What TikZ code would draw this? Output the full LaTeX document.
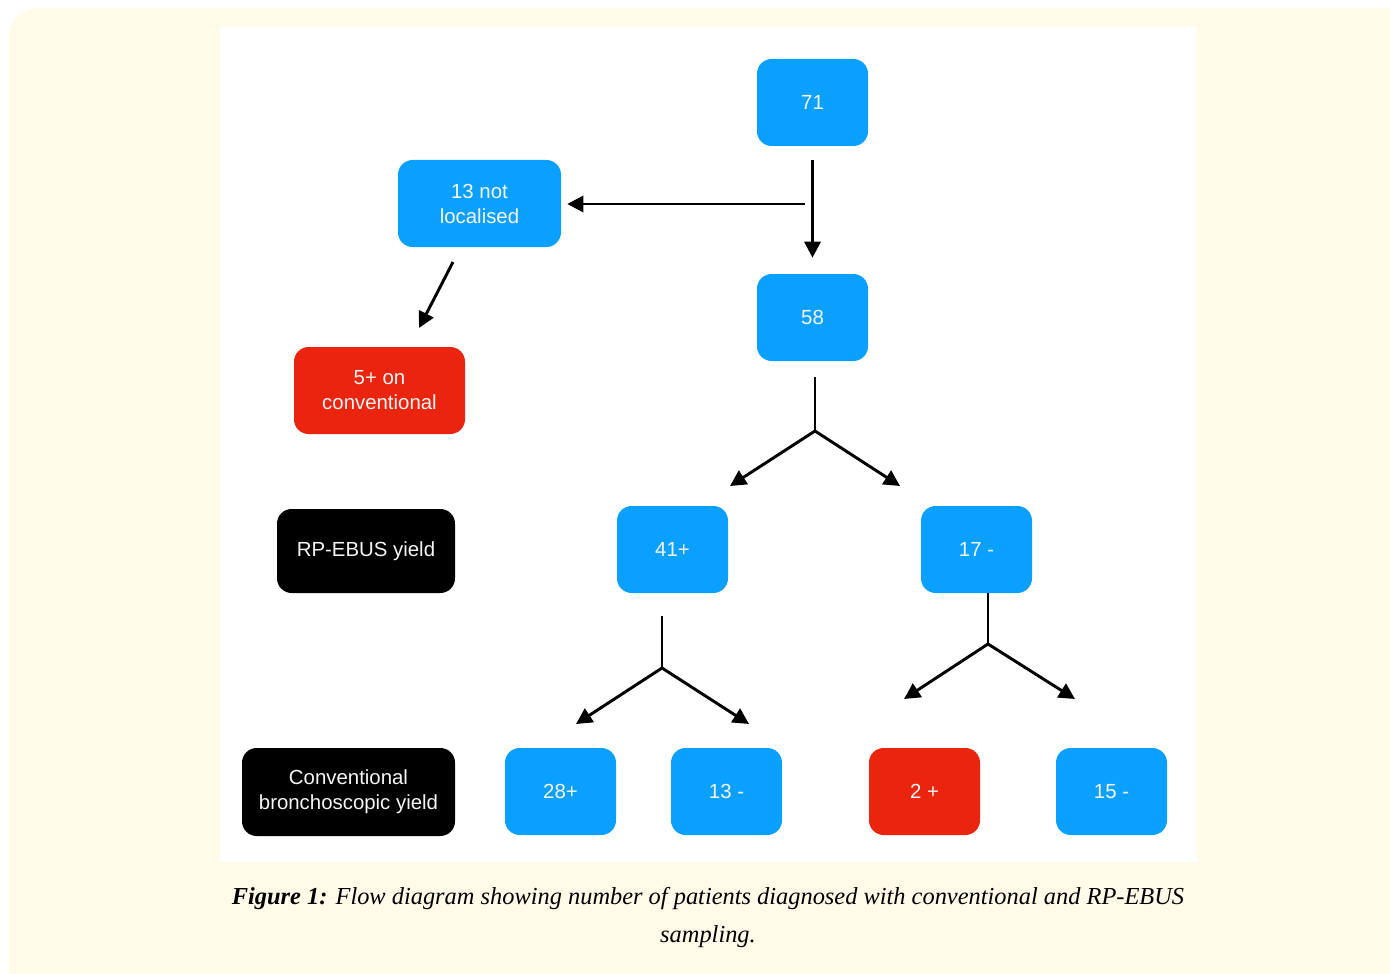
\documentclass[tikz,border=0pt]{standalone}
\usepackage{fontspec}
\setmainfont{Liberation Serif}
\newfontfamily\boxfont{Liberation Sans}
\usetikzlibrary{arrows.meta}
\definecolor{cream}{RGB}{255,251,232}
\definecolor{bblue}{RGB}{10,160,255}
\definecolor{bred}{RGB}{234,36,14}
\definecolor{btext}{RGB}{245,245,245}
\tikzset{
  box/.style={rounded corners=11pt, minimum width=83.25pt, minimum height=65.25pt,
    inner sep=0pt, align=center, text=btext, font=\boxfont\fontsize{15.3}{18.75}\selectfont},
  bluebox/.style={box, fill=bblue},
  redbox/.style={box, fill=bred},
  blackbox/.style={box, fill=black},
  ln/.style={line width=2.2pt, draw=black},
  arr/.style={ln, -{Triangle[length=12pt,width=12pt]}},
  captxt/.style={font=\fontsize{18.3}{21}\selectfont\itshape},
}
\begin{document}
\begin{tikzpicture}[x=0.75pt,y=-0.75pt]
\useasboundingbox (0,0) rectangle (1390,974);
\fill[white] (0,0) rectangle (1390,974);
\fill[cream, rounded corners=22pt] (9,8) rectangle (1420,1000);
\fill[white] (220,27) rectangle (1197,862);

\node[bluebox] (n71) at (812.5,102.5) {71};
\node[bluebox, minimum width=122.25pt] (n13nl) at (479.5,203.5) {13 not\\localised};
\node[bluebox] (n58) at (812.5,317.5) {58};
\node[redbox, minimum width=128.25pt] (n5) at (379.5,390.5) {5+ on\\conventional};
\node[blackbox, minimum width=133.5pt, minimum height=63pt] (rp) at (366,551) {RP-EBUS yield};
\node[bluebox] (n41) at (672.5,549.5) {41+};
\node[bluebox] (n17) at (976.5,549.5) {17 -};
\node[blackbox, minimum width=159.75pt, minimum height=66pt] (cb) at (348.5,792) {Conventional\\bronchoscopic yield};
\node[bluebox] (n28) at (560.5,791.5) {28+};
\node[bluebox] (n13m) at (726.5,791.5) {13 -};
\node[redbox] (n2) at (924.5,791.5) {2 +};
\node[bluebox] (n15) at (1111.5,791.5) {15 -};

% top arrows
\coordinate (h0) at (805,204);
\draw[arr, shorten <=10.5pt, shorten >=12pt] (n71) -- (n58);
\draw[arr, shorten >=4.5pt] (h0) -- (n13nl.east |- h0);
\coordinate (d0) at (453,262);
\coordinate (d1) at (419,328);
\draw[arr] (d0) -- (d1);

% 58 branch
\coordinate (b1) at (815,431);
\coordinate (b1s) at (815,377);
\coordinate (b1l) at (730,486);
\coordinate (b1r) at (900,486);
\draw[ln] (b1s) -- (b1);
\draw[arr] (b1) -- (b1l);
\draw[arr] (b1) -- (b1r);

% 41+ branch
\coordinate (b2s) at (662,616);
\coordinate (b2) at (662,668);
\coordinate (b2l) at (576,724);
\coordinate (b2r) at (749,724);
\draw[ln] (b2s) -- (b2);
\draw[arr] (b2) -- (b2l);
\draw[arr] (b2) -- (b2r);

% 17- branch
\coordinate (b3) at (988,644);
\coordinate (b3l) at (904,699);
\coordinate (b3r) at (1075,699);
\draw[ln] (n17.south -| b3) -- (b3);
\draw[arr] (b3) -- (b3l);
\draw[arr] (b3) -- (b3r);

\node[captxt] (cap1) at (708,899)
  {\textbf{Figure 1:} Flow diagram showing number of patients diagnosed with conventional and RP-EBUS};
\node[captxt] (cap2) at (708,937) {sampling.};
\end{tikzpicture}
\end{document}
